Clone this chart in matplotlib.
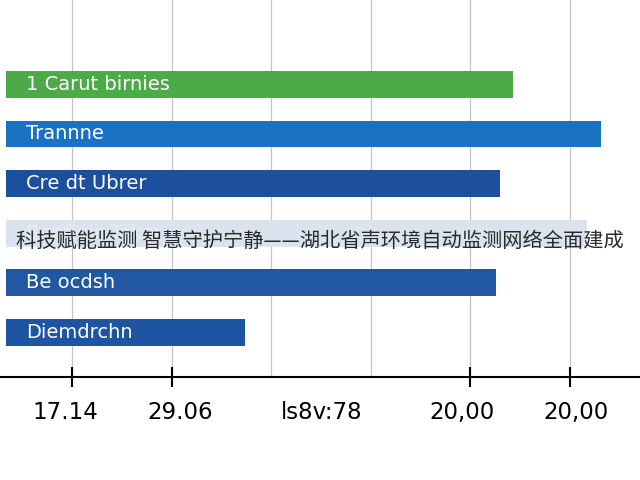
import matplotlib.pyplot as plt

# bar data (in grid units, bars start at 0)
bar_labels = ['1 Carut birnies', 'Trannne', 'Cre dt Ubrer', 'Benfluls Taker', 'Be ocdsh', 'Diemdrchn']
bar_values = [5.09, 5.97, 4.96, 5.83, 4.92, 2.40]
bar_colors = ['#4caa48', '#1a72c2', '#1c4f9c', '#dae3ee', '#2257a2', '#1d55a3']

grid_pos = [0.663, 1.663, 2.663, 3.663, 4.663, 5.663]
mark_pos = [0.663, 1.663, 4.663, 5.663]
label_pos = [0.592, 1.747, 3.173, 4.578, 5.723]
tick_labels = ['17.14', '29.06', 'ls8v:78', '20,00', '20,00']

title = '科技赋能监测 智慧守护宁静——湖北省声环境自动监测网络全面建成'

fig = plt.figure(figsize=(6.4, 4.8), dpi=100)
ax = fig.add_axes([0, 1 - 377 / 480, 1, 377 / 480])

for g in grid_pos:
    ax.axvline(g, color='#c4c4c4', lw=0.9, zorder=0)

ypos = list(range(len(bar_values)))
ax.barh(ypos, bar_values, height=0.54, color=bar_colors, zorder=2)

for y, lab in zip(ypos, bar_labels):
    ax.text(0.2, y, lab, color='white', fontsize=14, va='center', ha='left',
            zorder=3, alpha=0.35 if lab == 'Benfluls Taker' else 1)

ax.set_xlim(-0.060, 6.366)
ax.set_ylim(5.90, -1.70)

ax.set_yticks([])
ax.set_xticks(label_pos)
ax.set_xticklabels(tick_labels, fontsize=16.5)
ax.set_xticks(mark_pos, minor=True)
ax.tick_params(axis='x', which='major', length=0, pad=17)
ax.tick_params(axis='x', which='minor', direction='inout', length=14, width=1.5)

for s in ['top', 'left', 'right']:
    ax.spines[s].set_visible(False)
ax.spines['bottom'].set_linewidth(1.5)

fig.text(16 / 640, 1 - 241 / 480, title, fontsize=14.6, color='#2a2a2a',
         va='center', ha='left', family=['Noto Sans CJK SC', 'DejaVu Sans'])

fig.savefig('out.png', dpi=100)
